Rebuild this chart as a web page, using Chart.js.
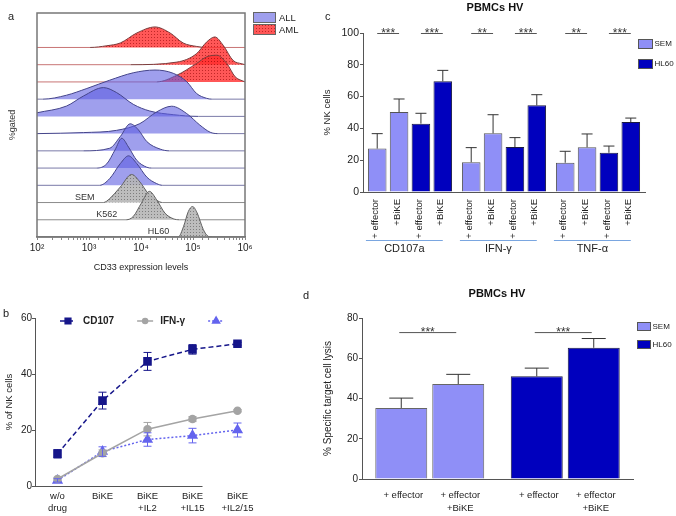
<!DOCTYPE html>
<html>
<head>
<meta charset="utf-8">
<title>CD33 BiKE figure</title>
<script src="https://cdn.jsdelivr.net/npm/chart.js"></script>
<style>
    body {
        margin: 0;
        background: #fff;
        font-family: "Liberation Sans", Arial, sans-serif;
    }
    #figure {
        position: relative;
        width: 676px;
        height: 516px;
        overflow: hidden;
    }
    #figure canvas {
        position: absolute;
    }
    .tag {
        position: absolute;
        font-size: 11px;
        line-height: 12px;
        color: #222;
    }
    .ptitle {
        position: absolute;
        width: 200px;
        text-align: center;
        font-size: 11px;
        line-height: 12px;
        font-weight: bold;
        color: #111;
    }
</style>
</head>
<body>
<div id="figure">
    <canvas id="chartA" width="340" height="280" style="left:0;top:0"></canvas>
    <canvas id="chartC" width="356" height="280" style="left:320px;top:0"></canvas>
    <canvas id="chartB" width="340" height="236" style="left:0;top:280px"></canvas>
    <canvas id="chartD" width="356" height="236" style="left:320px;top:280px"></canvas>
    <div class="tag" style="left:8px;top:10px">a</div>
    <div class="tag" style="left:3px;top:307px">b</div>
    <div class="tag" style="left:325px;top:10px">c</div>
    <div class="tag" style="left:303px;top:289px">d</div>
    <div class="ptitle" style="left:395px;top:1px">PBMCs HV</div>
    <div class="ptitle" style="left:397px;top:287px">PBMCs HV</div>
</div>

<script>
// ---------- panel a: CD33 histograms, [CD33 intensity, peak height in row units]
const hl60Hist = [[100,0],[52000,0],[66000,0.62],[81000,1.47],[98000,1.77],[120000,1.4],[158000,0.43],[195000,0.04],[230000,0],[1000000,0]];
const k562Hist = [[100,0],[5200,0],[7100,0.19],[10200,0.97],[14500,1.65],[20000,1.16],[28800,0.39],[41700,0.06],[55000,0],[1000000,0]];
const semHist  = [[100,0],[1900,0],[2500,0.23],[4000,0.9],[6600,1.63],[9500,1.2],[13800,0.52],[20000,0.13],[26000,0],[1000000,0]];
const all1Hist = [[100,0],[1600,0],[2500,0.39],[4000,1.26],[5750,1.71],[8300,1.26],[12900,0.48],[20000,0.1],[26000,0],[1000000,0]];
const all2Hist = [[100,0],[1400,0],[2200,0.25],[3160,1.05],[4270,1.73],[5750,1.22],[8300,0.45],[12900,0.05],[16000,0],[1000000,0]];
const all3Hist = [[100,0],[780,0],[2500,0.15],[4000,0.83],[6200,1.57],[8900,1.22],[12900,0.54],[23400,0.1],[35000,0],[1000000,0]];
const all4Hist = [[100,0],[780,0.06],[3400,0.19],[9500,0.58],[20000,1.26],[38900,1.59],[76000,1.16],[135000,0.5],[214000,0.08],[300000,0],[1000000,0]];
const all5Hist = [[100,0.21],[370,0.6],[780,1.18],[1900,1.67],[3400,1.38],[7100,0.7],[14800,0.31],[41700,0.1],[126000,0],[1000000,0]];
const all6Hist = [[100,0],[130,0],[370,0.23],[910,0.62],[2500,1.1],[7100,1.53],[18600,1.69],[41700,1.5],[76000,1.01],[117000,0.33],[182000,0.05],[230000,0],[1000000,0]];
const aml1Hist = [[100,0],[20000,0],[49000,0.39],[117000,1.07],[182000,1.45],[288000,1.55],[447000,1.07],[646000,0.3],[912000,0.05],[1000000,0]];
const aml2Hist = [[100,0],[6300,0],[49000,0.15],[117000,0.64],[182000,1.31],[263000,1.61],[380000,1.13],[589000,0.25],[871000,0.05],[1000000,0]];
const aml3Hist = [[100,0],[1050,0],[2200,0.1],[4000,0.26],[8300,0.84],[18600,1.19],[36300,0.84],[64600,0.26],[117000,0.06],[182000,0],[1000000,0]];

// bottom row first
const histRows = [
    {name: 'HL60', group: 'line', data: hl60Hist},
    {name: 'K562', group: 'line', data: k562Hist},
    {name: 'SEM', group: 'line', data: semHist},
    {name: 'ALL 1', group: 'ALL', data: all1Hist},
    {name: 'ALL 2', group: 'ALL', data: all2Hist},
    {name: 'ALL 3', group: 'ALL', data: all3Hist},
    {name: 'ALL 4', group: 'ALL', data: all4Hist},
    {name: 'ALL 5', group: 'ALL', data: all5Hist},
    {name: 'ALL 6', group: 'ALL', data: all6Hist},
    {name: 'AML 1', group: 'AML', data: aml1Hist},
    {name: 'AML 2', group: 'AML', data: aml2Hist},
    {name: 'AML 3', group: 'AML', data: aml3Hist}
];
const histLegend = ['ALL', 'AML'];

// ---------- panel b
const bCategories = [['w/o', 'drug'], 'BiKE', ['BiKE', '+IL2'], ['BiKE', '+IL15'], ['BiKE', '+IL2/15']];
const cd107Mean = [11.5, 30.5, 44.5, 48.8, 50.8];
const cd107Err  = [1.5, 3, 3.2, 1.7, 0.5];
const ifngMean  = [2.5, 11.7, 20.3, 23.9, 26.9];
const ifngErr   = [0.6, 1.2, 2.4, 0.9, 0.4];
const thirdMean = [2, 12.3, 16.6, 18, 20];
const thirdErr  = [0.6, 1.7, 2.4, 2.6, 2.5];
const bErrors = [cd107Err, ifngErr, thirdErr];

// ---------- panel c
const cCategories = ['CD107a', 'IFN-γ', 'TNF-α'];
const cBarLabels = ['+ effector', '+BiKE', '+ effector', '+BiKE'];
const semEffector     = [27.3, 18.7, 18.4];
const semEffectorErr  = [9.4, 9.2, 7.2];
const semBike         = [50.3, 36.9, 28.1];
const semBikeErr      = [8.2, 11.7, 8.4];
const hl60Effector    = [43, 28.3, 24.7];
const hl60EffectorErr = [6.5, 5.9, 4.2];
const hl60Bike        = [69.6, 54.5, 44];
const hl60BikeErr     = [6.9, 6.7, 2.5];
const cSignif = [['***', '***'], ['**', '***'], ['**', '***']];

// ---------- panel d
const dGroups = ['SEM', 'HL60'];
const dBarLabels = [['+ effector'], ['+ effector', '+BiKE']];
const dEffector    = [35.3, 51];
const dEffectorErr = [4.9, 4.1];
const dBike        = [47.2, 65.2];
const dBikeErr     = [4.8, 4.6];
const dSignif = ['***', '***'];

const cellLegend = ['SEM', 'HL60'];

// ---------- styles
const fam = "'Liberation Sans', Arial, sans-serif";
Chart.defaults.font.family = fam;
Chart.defaults.color = '#222';
Chart.defaults.animation = false;
Chart.defaults.responsive = false;
Chart.defaults.plugins.legend.display = false;
Chart.defaults.plugins.tooltip.enabled = false;

const semColor = '#8f8ff7';
const hl60Color = '#0000be';
const navy = '#16168a';

function dots(base, dot) {
    const tile = document.createElement('canvas');
    tile.width = 3;
    tile.height = 3;
    const g = tile.getContext('2d');
    g.fillStyle = base;
    g.fillRect(0, 0, 3, 3);
    g.fillStyle = dot;
    g.fillRect(1, 1, 1, 1);
    return g.createPattern(tile, 'repeat');
}

const groupStyle = {
    AML:  {fill: dots('rgba(255,45,45,0.8)', 'rgba(140,0,0,0.55)'), line: '#7a3c3c', base: '#c87575'},
    ALL:  {fill: 'rgba(95,95,225,0.6)', line: '#45458a', base: '#7a7aa8'},
    line: {fill: dots('rgba(182,182,182,0.9)', 'rgba(85,85,85,0.6)'), line: '#5f5f5f', base: '#8c8c8c'}
};

const sup = {2: '²', 3: '³', 4: '⁴', 5: '⁵', 6: '⁶'};

// ---------- panel a
const histExtras = {
    id: 'histExtras',
    afterDraw(chart) {
        const {ctx, chartArea: ca, scales: {x, y}} = chart;
        ctx.save();
        ctx.strokeStyle = '#777';
        ctx.lineWidth = 1.5;
        ctx.strokeRect(ca.left, ca.top, ca.right - ca.left, ca.bottom - ca.top);

        // cell line names, just left of where each peak rises
        ctx.font = '9px ' + fam;
        ctx.fillStyle = '#333';
        ctx.textAlign = 'right';
        ctx.textBaseline = 'alphabetic';
        histRows.forEach((r, k) => {
            if (r.group !== 'line') return;
            const i = r.data.findIndex(p => p[1] > 0) - 1;
            ctx.fillText(r.name, x.getPixelForValue(r.data[i][0]) - 9, y.getPixelForValue(k) - 3);
        });

        // legend
        ctx.font = '9.5px ' + fam;
        ctx.textAlign = 'left';
        ctx.textBaseline = 'middle';
        histLegend.forEach((name, i) => {
            const bx = ca.right + 8, by = 12 + i * 12;
            ctx.fillStyle = '#fff';
            ctx.fillRect(bx, by, 23, 11);
            ctx.fillStyle = groupStyle[name].fill;
            ctx.fillRect(bx, by, 23, 11);
            ctx.strokeStyle = '#666';
            ctx.lineWidth = 1;
            ctx.strokeRect(bx + 0.5, by + 0.5, 22, 10);
            ctx.fillStyle = '#222';
            ctx.fillText(name, bx + 26, by + 6);
        });
        ctx.restore();
    }
};

new Chart('chartA', {
    type: 'line',
    data: {
        datasets: histRows.map((r, k) => ({
            label: r.name,
            data: r.data.map(([v, h]) => ({x: v, y: k + h})),
            fill: {value: k},
            backgroundColor: groupStyle[r.group].fill,
            borderColor: groupStyle[r.group].line,
            borderWidth: 1,
            pointRadius: 0,
            cubicInterpolationMode: 'monotone',
            segment: {
                borderColor: c => (c.p0.parsed.y === k && c.p1.parsed.y === k) ? groupStyle[r.group].base : undefined
            }
        }))
    },
    options: {
        layout: {padding: {left: 0, right: 95, top: 13, bottom: 0}},
        scales: {
            x: {
                type: 'logarithmic',
                min: 100,
                max: 1000000,
                ticks: {
                    autoSkip: false,
                    maxRotation: 0,
                    padding: 2,
                    font: {size: 10},
                    callback: v => {
                        const e = Math.round(Math.log10(v));
                        return Math.abs(v - Math.pow(10, e)) < 1e-6 ? '10' + sup[e] : '';
                    }
                },
                grid: {drawOnChartArea: false, tickLength: 3, color: '#888'},
                border: {color: '#777', width: 1.5},
                title: {display: true, text: 'CD33 expression levels', font: {size: 9}, padding: {top: 0, bottom: 7}},
                afterFit: s => { s.height = 43; }
            },
            y: {
                min: 0,
                max: 13,
                ticks: {display: false},
                grid: {display: false, drawTicks: false},
                border: {display: false},
                title: {display: true, text: '%gated', font: {size: 9}, color: '#333', padding: {top: 7, bottom: 0}},
                afterFit: s => { s.width = 37; }
            }
        }
    },
    plugins: [histExtras]
});

// ---------- panel b
const lineExtras = {
    id: 'lineExtras',
    afterDatasetsDraw(chart) {
        const {ctx, chartArea: ca, scales: {x, y}} = chart;
        ctx.save();
        ctx.setLineDash([]);
        chart.data.datasets.forEach((ds, i) => {
            ctx.strokeStyle = ds.borderColor;
            ctx.lineWidth = 1;
            chart.getDatasetMeta(i).data.forEach((pt, j) => {
                const lo = y.getPixelForValue(ds.data[j] - bErrors[i][j]);
                const hi = y.getPixelForValue(ds.data[j] + bErrors[i][j]);
                ctx.beginPath();
                ctx.moveTo(pt.x, lo); ctx.lineTo(pt.x, hi);
                ctx.moveTo(pt.x - 4, lo); ctx.lineTo(pt.x + 4, lo);
                ctx.moveTo(pt.x - 4, hi); ctx.lineTo(pt.x + 4, hi);
                ctx.stroke();
            });
        });

        // x axis line stops past the fourth category, as in the figure
        ctx.strokeStyle = '#555';
        ctx.beginPath();
        ctx.moveTo(ca.left, ca.bottom + 0.5);
        ctx.lineTo(x.getPixelForValue(3) + 10, ca.bottom + 0.5);
        ctx.stroke();

        // legend: line sample with marker, then label
        ctx.font = 'bold 10px ' + fam;
        ctx.textBaseline = 'middle';
        ctx.textAlign = 'left';
        let lx = ca.left + 25;
        const ly = ca.top + 3;
        chart.data.datasets.forEach(ds => {
            ctx.strokeStyle = ds.borderColor;
            ctx.fillStyle = ds.borderColor;
            ctx.lineWidth = 1.5;
            ctx.setLineDash(ds.borderDash || []);
            ctx.beginPath();
            ctx.moveTo(lx, ly); ctx.lineTo(lx + 16, ly);
            ctx.stroke();
            ctx.setLineDash([]);
            Chart.helpers.drawPoint(ctx, {pointStyle: ds.pointStyle, radius: ds.pointRadius - 1, rotation: 0, borderWidth: 1}, lx + 8, ly);
            ctx.fillStyle = '#222';
            ctx.fillText(ds.label, lx + 23, ly);
            lx += 23 + ctx.measureText(ds.label).width + 23;
        });
        ctx.restore();
    }
};

new Chart('chartB', {
    type: 'line',
    data: {
        labels: bCategories,
        datasets: [
            {label: 'CD107', data: cd107Mean, borderColor: navy, backgroundColor: navy, borderDash: [5, 3],
             pointStyle: 'rect', pointRadius: 5, borderWidth: 1.5},
            {label: 'IFN-γ', data: ifngMean, borderColor: '#a4a4a4', backgroundColor: '#a4a4a4',
             pointStyle: 'circle', pointRadius: 3.5, borderWidth: 1.5},
            {label: '', data: thirdMean, borderColor: '#6464ee', backgroundColor: '#6464ee', borderDash: [2, 2],
             pointStyle: 'triangle', pointRadius: 5, borderWidth: 1.5}
        ]
    },
    options: {
        layout: {padding: {left: 0, right: 80, top: 38, bottom: 0}},
        scales: {
            x: {
                offset: true,
                ticks: {font: {size: 9.5}, padding: 5, maxRotation: 0, autoSkip: false},
                grid: {display: false, drawTicks: false},
                border: {display: false},
                afterFit: s => { s.height = 30; }
            },
            y: {
                min: 0,
                max: 60,
                ticks: {stepSize: 20, padding: 0, font: {size: 10}},
                grid: {drawOnChartArea: false, tickLength: 3, color: '#555'},
                border: {color: '#555'},
                title: {display: true, text: '% of NK cells', font: {size: 9.5}, padding: {top: 4, bottom: 0}},
                afterFit: s => { s.width = 35; }
            }
        }
    },
    plugins: [lineExtras]
});

// ---------- shared bar helpers
function upErrorBars(ctx, chart, errors, halfCap) {
    const y = chart.scales.y;
    ctx.strokeStyle = '#333';
    ctx.lineWidth = 1;
    chart.data.datasets.forEach((ds, i) => {
        chart.getDatasetMeta(i).data.forEach((bar, j) => {
            const top = y.getPixelForValue(ds.data[j]);
            const hi = y.getPixelForValue(ds.data[j] + errors[i][j]);
            ctx.beginPath();
            ctx.moveTo(bar.x, top); ctx.lineTo(bar.x, hi);
            ctx.moveTo(bar.x - halfCap, hi); ctx.lineTo(bar.x + halfCap, hi);
            ctx.stroke();
        });
    });
}

function sigLine(ctx, x1, x2, yPix, stars) {
    ctx.strokeStyle = '#555';
    ctx.lineWidth = 1;
    ctx.beginPath();
    ctx.moveTo(x1, yPix + 0.5); ctx.lineTo(x2, yPix + 0.5);
    ctx.stroke();
    ctx.font = '12px ' + fam;
    ctx.fillStyle = '#333';
    ctx.textAlign = 'center';
    ctx.textBaseline = 'alphabetic';
    ctx.fillText(stars, (x1 + x2) / 2, yPix + 4);
}

function sideLegend(ctx, bx, by, gap, w, h) {
    ctx.font = '8px ' + fam;
    ctx.textAlign = 'left';
    ctx.textBaseline = 'middle';
    [semColor, hl60Color].forEach((col, i) => {
        const yy = by + i * gap;
        ctx.fillStyle = col;
        ctx.fillRect(bx, yy, w, h);
        ctx.strokeStyle = '#555';
        ctx.lineWidth = 1;
        ctx.strokeRect(bx + 0.5, yy + 0.5, w - 1, h - 1);
        ctx.fillStyle = '#222';
        ctx.fillText(cellLegend[i], bx + w + 1.5, yy + h / 2);
    });
}

// ---------- panel c
const cErrors = [semEffectorErr, semBikeErr, hl60EffectorErr, hl60BikeErr];
const cExtras = {
    id: 'cExtras',
    afterDraw(chart) {
        const {ctx, chartArea: ca, scales: {y}} = chart;
        const metas = [0, 1, 2, 3].map(i => chart.getDatasetMeta(i));
        ctx.save();
        upErrorBars(ctx, chart, cErrors, 5.5);

        cCategories.forEach((cat, j) => {
            // significance for the SEM pair and the HL60 pair
            [0, 2].forEach((d, p) => {
                sigLine(ctx, metas[d].data[j].x, metas[d + 1].data[j].x, y.getPixelForValue(y.max), cSignif[j][p]);
            });
            // vertical bar labels
            ctx.font = '9.5px ' + fam;
            ctx.fillStyle = '#222';
            ctx.textAlign = 'right';
            ctx.textBaseline = 'middle';
            metas.forEach((m, d) => {
                ctx.save();
                ctx.translate(m.data[j].x - 2, ca.bottom + 7);
                ctx.rotate(-Math.PI / 2);
                ctx.fillText(cBarLabels[d], 0, 0);
                ctx.restore();
            });
            // group underline and name
            const first = metas[0].data[j], last = metas[3].data[j];
            const x1 = first.x - first.width / 2 - 2, x2 = last.x;
            ctx.strokeStyle = '#7aa6e0';
            ctx.lineWidth = 1;
            ctx.beginPath();
            ctx.moveTo(x1, ca.bottom + 48.5); ctx.lineTo(x2, ca.bottom + 48.5);
            ctx.stroke();
            ctx.font = '11px ' + fam;
            ctx.fillStyle = '#222';
            ctx.textAlign = 'center';
            ctx.fillText(cat, (x1 + x2) / 2, ca.bottom + 57);
        });

        sideLegend(ctx, ca.right - 7, ca.top + 6, 20, 15, 10);
        ctx.restore();
    }
};

new Chart('chartC', {
    type: 'bar',
    data: {
        labels: cCategories,
        datasets: [
            {label: 'SEM + effector', data: semEffector, backgroundColor: semColor, borderColor: '#555'},
            {label: 'SEM +BiKE', data: semBike, backgroundColor: semColor, borderColor: '#555'},
            {label: 'HL60 + effector', data: hl60Effector, backgroundColor: hl60Color, borderColor: '#1a1a40'},
            {label: 'HL60 +BiKE', data: hl60Bike, backgroundColor: hl60Color, borderColor: '#1a1a40'}
        ].map(ds => Object.assign(ds, {borderWidth: 1, categoryPercentage: 0.93, barPercentage: 0.85}))
    },
    options: {
        layout: {padding: {left: 0, right: 31, top: 33, bottom: 0}},
        scales: {
            x: {
                ticks: {display: false},
                grid: {display: false, drawTicks: false},
                border: {color: '#555'},
                afterFit: s => { s.height = 88; }
            },
            y: {
                min: 0,
                max: 100,
                ticks: {stepSize: 20, padding: 1, font: {size: 10.5}},
                grid: {drawOnChartArea: false, tickLength: 3, color: '#555'},
                border: {color: '#555'},
                title: {display: true, text: '% NK cells', font: {size: 9.5}, padding: {top: 2, bottom: 0}},
                afterFit: s => { s.width = 43; }
            }
        }
    },
    plugins: [cExtras]
});

// ---------- panel d
const dErrors = [dEffectorErr, dBikeErr];
const dExtras = {
    id: 'dExtras',
    afterDraw(chart) {
        const {ctx, chartArea: ca, scales: {y}} = chart;
        const metas = [0, 1].map(i => chart.getDatasetMeta(i));
        ctx.save();
        upErrorBars(ctx, chart, dErrors, 12);

        dGroups.forEach((g, j) => {
            sigLine(ctx, metas[0].data[j].x - 2, metas[1].data[j].x - 2, y.getPixelForValue(73), dSignif[j]);
            ctx.font = '9.5px ' + fam;
            ctx.fillStyle = '#222';
            ctx.textAlign = 'center';
            ctx.textBaseline = 'middle';
            metas.forEach((m, d) => {
                dBarLabels[d].forEach((line, l) => {
                    ctx.fillText(line, m.data[j].x + 2, ca.bottom + 16 + l * 13);
                });
            });
        });

        sideLegend(ctx, ca.right + 4, ca.top + 4, 18, 14, 9);
        ctx.restore();
    }
};

new Chart('chartD', {
    type: 'bar',
    data: {
        labels: dGroups,
        datasets: [
            {label: '+ effector', data: dEffector},
            {label: '+ effector +BiKE', data: dBike}
        ].map(ds => Object.assign(ds, {
            backgroundColor: [semColor, hl60Color],
            borderColor: ['#666', '#1a1a40'],
            borderWidth: 1,
            categoryPercentage: 0.841,
            barPercentage: 0.912
        }))
    },
    options: {
        layout: {padding: {left: 0, right: 43, top: 38, bottom: 0}},
        scales: {
            x: {
                ticks: {display: false},
                grid: {display: false, drawTicks: false},
                border: {color: '#555'},
                afterFit: s => { s.height = 37; }
            },
            y: {
                min: 0,
                max: 80,
                ticks: {stepSize: 20, padding: 1, font: {size: 10}},
                grid: {drawOnChartArea: false, tickLength: 3, color: '#555'},
                border: {color: '#555'},
                title: {display: true, text: '% Specific target cell lysis', font: {size: 10}, padding: {top: 2, bottom: 0}},
                afterFit: s => { s.width = 42; }
            }
        }
    },
    plugins: [dExtras]
});
</script>
</body>
</html>
